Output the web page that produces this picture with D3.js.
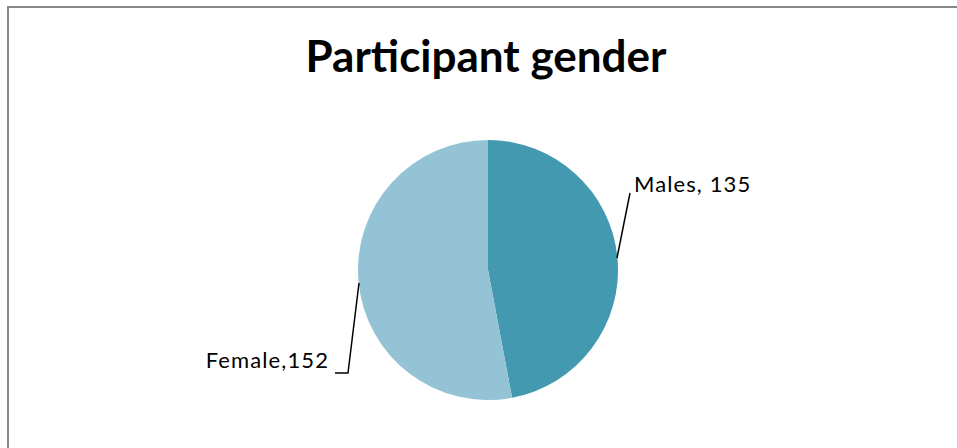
<!DOCTYPE html>
<html><head><meta charset="utf-8">
<script src="https://cdn.jsdelivr.net/npm/d3@7"></script>
<style>body{margin:0;background:#fff}svg{display:block}</style>
</head><body>
<svg id="chart" width="957" height="448"></svg>
<script>
const categories = ["Males", "Female"];
const values = [135, 152];
const labels = ["Males, 135", "Female,152"];
const colors = ["#4399B0", "#93C3D4"];

const svg = d3.select("#chart");
svg.append("rect").attr("width", 957).attr("height", 448).attr("fill", "#fff");
// frame (only top/left visible in reference)
svg.append("path").attr("d", "M8,460 L8,7 L970,7").attr("fill", "none")
  .attr("stroke", "#888").attr("stroke-width", 2);

svg.append("text").attr("x", 486).attr("y", 72).attr("text-anchor", "middle")
  .attr("font-family", "Lato, 'Open Sans', sans-serif").attr("font-weight", "bold")
  .attr("font-size", 44).attr("fill", "#000").text("Participant gender");

const cx = 488, cy = 270, r = 130;
const pie = d3.pie().sort(null).value(d => d)(values);
const arc = d3.arc().innerRadius(0).outerRadius(r);
const g = svg.append("g").attr("transform", `translate(${cx},${cy})`);
g.selectAll("path").data(pie).join("path").attr("d", arc)
  .attr("fill", (d, i) => colors[i]);

// leader lines
const lines = [
  [[617, 258], [630, 193]],
  [[359, 283], [348, 373], [335, 373]]
];
svg.selectAll("path.leader").data(lines).join("path").attr("class", "leader")
  .attr("d", d3.line()).attr("fill", "none").attr("stroke", "#000").attr("stroke-width", 1.5);

svg.append("text").attr("x", 634).attr("y", 192).attr("font-family", "Lato, 'Open Sans', sans-serif")
  .attr("font-size", 22).attr("letter-spacing", 1.1).attr("fill", "#000").text(labels[0]);
svg.append("text").attr("x", 329).attr("y", 368).attr("text-anchor", "end")
  .attr("font-family", "Lato, 'Open Sans', sans-serif")
  .attr("font-size", 22).attr("letter-spacing", 1.1).attr("fill", "#000").text(labels[1]);
</script>
</body></html>
